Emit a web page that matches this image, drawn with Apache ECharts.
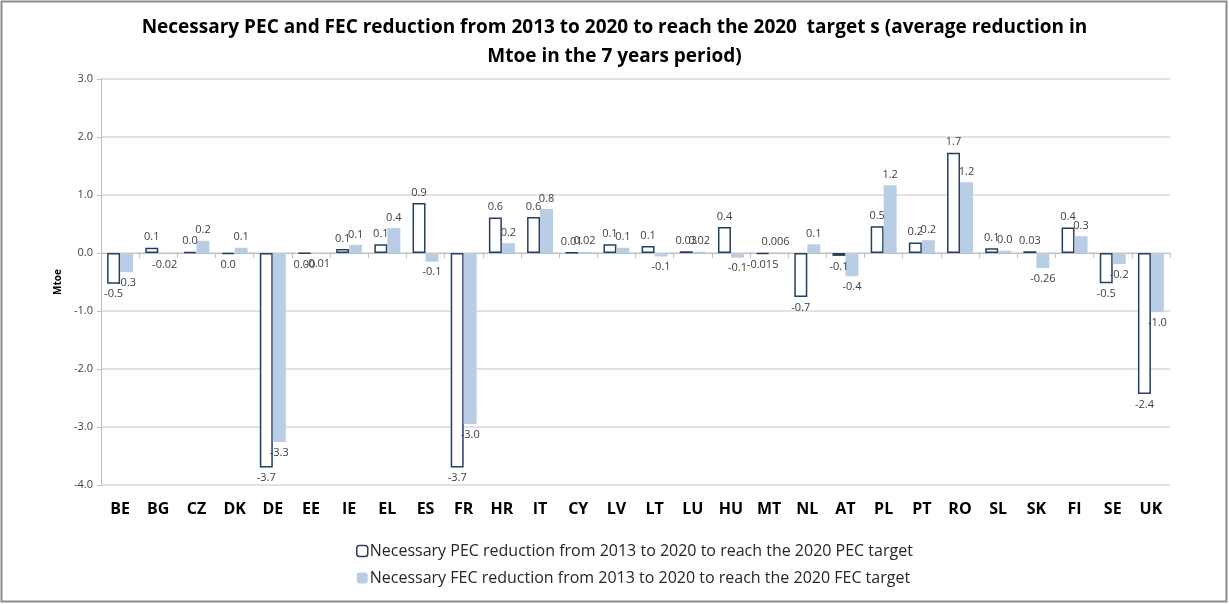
<!DOCTYPE html>
<html lang="en">
<head>
<meta charset="utf-8" />
<title>PEC and FEC reduction</title>
<script src="https://cdn.jsdelivr.net/npm/echarts@6/dist/echarts.min.js"></script>
<style>
    html, body { margin: 0; padding: 0; background: #fff; }
    #main { width: 1229px; height: 604px; }
</style>
</head>
<body>
<div id="main"></div>
<script>
    // countries
    var countries = ['BE', 'BG', 'CZ', 'DK', 'DE', 'EE', 'IE', 'EL', 'ES', 'FR', 'HR', 'IT', 'CY', 'LV',
        'LT', 'LU', 'HU', 'MT', 'NL', 'AT', 'PL', 'PT', 'RO', 'SL', 'SK', 'FI', 'SE', 'UK'];

    // necessary PEC reduction (Mtoe / year)
    var pecValues = [-0.53, 0.09, 0.02, -0.02, -3.7, -0.01, 0.07, 0.15, 0.86, -3.7, 0.61, 0.62, 0.01, 0.15,
        0.12, 0.03, 0.45, -0.015, -0.76, -0.05, 0.46, 0.18, 1.73, 0.08, 0.03, 0.44, -0.52, -2.43];
    var pecLabels = ['-0.5', '0.1', '0.0', '0.0', '-3.7', '0.00', '0.1', '0.1', '0.9', '-3.7', '0.6', '0.6', '0.01', '0.1',
        '0.1', '0.03', '0.4', '-0.015', '-0.7', '-0.1', '0.5', '0.2', '1.7', '0.1', '0.03', '0.4', '-0.5', '-2.4'];

    // necessary FEC reduction (Mtoe / year)
    var fecValues = [-0.33, -0.02, 0.21, 0.09, -3.26, -0.01, 0.14, 0.43, -0.15, -2.95, 0.17, 0.76, 0.02, 0.09,
        -0.06, 0.02, -0.08, 0.006, 0.15, -0.4, 1.17, 0.22, 1.22, 0.04, -0.26, 0.29, -0.19, -1.02];
    var fecLabels = ['-0.3', '-0.02', '0.2', '0.1', '-3.3', '-0.01', '0.1', '0.4', '-0.1', '-3.0', '0.2', '0.8', '0.02', '0.1',
        '-0.1', '0.02', '-0.1', '0.006', '0.1', '-0.4', '1.2', '0.2', '1.2', '0.0', '-0.26', '0.3', '-0.2', '-1.0'];
</script>
<script>
    var myChart = echarts.init(document.getElementById('main'));

    function withLabels(values, labels) {
        return values.map(function (v, i) {
            return {
                value: v,
                label: { position: v < 0 ? 'bottom' : 'top', formatter: labels[i] }
            };
        });
    }

    var pecName = 'Necessary PEC reduction from 2013 to 2020 to reach the 2020 PEC target';
    var fecName = 'Necessary FEC reduction from 2013 to 2020 to reach the 2020 FEC target';

    var option = {
        backgroundColor: '#fff',
        animation: false,
        title: {
            text: 'Necessary PEC and FEC reduction from 2013 to 2020 to reach the 2020  target s (average reduction in\nMtoe in the 7 years period)',
            left: 'center',
            top: 8,
            textStyle: {
                fontFamily: 'Open Sans',
                fontWeight: 'bold',
                fontSize: 19,
                lineHeight: 29,
                color: '#000'
            }
        },
        graphic: [{
            type: 'rect',
            shape: { x: 1.5, y: 1.5, width: 1225, height: 600 },
            style: { fill: 'none', stroke: '#8c8c8c', lineWidth: 2 },
            silent: true
        }],
        legend: {
            orient: 'vertical',
            left: 351,
            top: 538,
            itemGap: 11,
            itemWidth: 11,
            itemHeight: 11,
            textStyle: { fontFamily: 'Open Sans', fontSize: 16, color: '#262626', padding: [0, 0, 0, -3] },
            data: [
                { name: pecName, itemStyle: { color: '#fff', borderColor: '#243f60', borderWidth: 1.5 } },
                { name: fecName }
            ]
        },
        grid: { left: 101, right: 59, top: 79, bottom: 119 },
        xAxis: [{
            type: 'category',
            data: countries,
            position: 'bottom',
            axisLine: { show: false, onZero: false },
            axisTick: { show: false },
            axisLabel: {
                margin: 16,
                fontFamily: 'Open Sans',
                fontWeight: 'bold',
                fontSize: 16,
                color: '#000'
            }
        }, {
            type: 'category',
            data: countries,
            position: 'bottom',
            axisLine: { show: true, onZero: true, lineStyle: { color: '#bfbfbf', width: 1 } },
            axisTick: { show: true, length: 5, lineStyle: { color: '#bfbfbf' } },
            axisLabel: { show: false }
        }],
        yAxis: {
            type: 'value',
            min: -4,
            max: 3,
            interval: 1,
            name: 'Mtoe',
            nameLocation: 'middle',
            nameGap: 29,
            nameTextStyle: { fontFamily: 'Open Sans', fontWeight: 'bold', fontSize: 10, color: '#000' },
            axisLine: { show: true, lineStyle: { color: '#bfbfbf' } },
            axisTick: { show: true, length: 4, lineStyle: { color: '#bfbfbf' } },
            axisLabel: {
                fontFamily: 'Open Sans',
                fontSize: 11,
                color: '#404040',
                margin: 8,
                formatter: function (v) { return v.toFixed(1); }
            },
            splitLine: { lineStyle: { color: '#d9d9d9', width: 1.5 } }
        },
        series: [{
            name: pecName,
            type: 'bar',
            xAxisIndex: 0,
            barGap: '0%',
            barCategoryGap: '32%',
            itemStyle: { color: '#fff', borderColor: '#243f60', borderWidth: 1.5 },
            label: { show: true, fontFamily: 'Open Sans', fontSize: 11, color: '#404040', distance: 5 },
            data: withLabels(pecValues, pecLabels)
        }, {
            name: fecName,
            type: 'bar',
            xAxisIndex: 0,
            itemStyle: { color: '#b9cde5' },
            label: { show: true, fontFamily: 'Open Sans', fontSize: 11, color: '#404040', distance: 5 },
            data: withLabels(fecValues, fecLabels)
        }]
    };

    myChart.setOption(option);
</script>
</body>
</html>
